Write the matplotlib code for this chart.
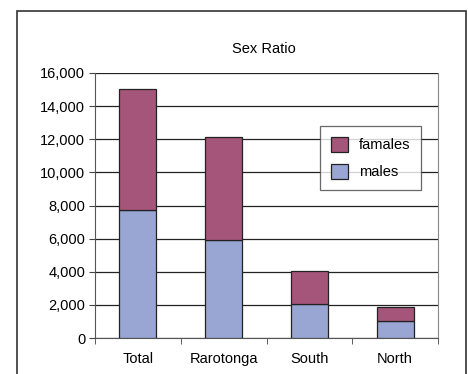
import matplotlib.pyplot as plt
import matplotlib.patches as mpatches
import numpy as np

plt.rcParams['font.family'] = ['Liberation Sans', 'DejaVu Sans']

# Data
regions = ['Total', 'Rarotonga', 'South', 'North']
males = [7750, 5900, 2070, 1020]
females = [7280, 6250, 1960, 830]
y_ticks = [0, 2000, 4000, 6000, 8000, 10000, 12000, 14000, 16000]

male_color = '#99a6d4'
female_color = '#a5557a'
fs = 10.5

fig = plt.figure(figsize=(4.68, 3.74), dpi=100)

# outer chart frame
frame = mpatches.Rectangle((17 / 468, -0.05), (466 - 17) / 468, 1.05 - 11 / 374,
                           transform=fig.transFigure, fill=False,
                           edgecolor='#333333', linewidth=1.2)
fig.patches.append(frame)

ax = fig.add_axes([95 / 468, 1 - 338 / 374, (438 - 95) / 468, (338 - 73) / 374])

x = np.arange(len(regions)) + 0.5
w = 0.43
ax.bar(x, males, width=w, color=male_color, edgecolor='#222222', linewidth=0.9,
       label='males', zorder=3)
ax.bar(x, females, width=w, bottom=males, color=female_color, edgecolor='#222222',
       linewidth=0.9, label='famales', zorder=3)

ax.set_xlim(0, len(regions))
ax.set_ylim(0, 16000)
ax.set_yticks(y_ticks)
ax.set_yticklabels([f'{v:,}' for v in y_ticks], fontsize=fs)
ax.set_xticks(x)
ax.set_xticklabels(regions, fontsize=fs)
ax.tick_params(axis='x', length=0, pad=10)
ax.set_xticks(np.arange(len(regions) + 1), minor=True)
ax.tick_params(axis='x', which='minor', length=4, direction='out', color='#444444')
ax.tick_params(axis='y', length=4, direction='out', color='#444444', pad=3)

ax.yaxis.grid(True, color='#222222', linewidth=0.9, zorder=0)
ax.spines['top'].set_visible(False)
ax.spines['left'].set_color('#555555')
ax.spines['bottom'].set_color('#555555')
ax.spines['right'].set_color('#888888')

fig.text(264 / 468, 1 - 49 / 374, 'Sex Ratio', ha='center', va='center', fontsize=fs)

handles, labels = ax.get_legend_handles_labels()
leg = ax.legend(handles[::-1], labels[::-1], loc='upper left',
                bbox_to_anchor=((320 - 95) / 343, (338 - 126) / 265),
                borderaxespad=0, fontsize=fs, frameon=True, fancybox=False,
                edgecolor='#444444', handlelength=1.2, handleheight=1.2,
                labelspacing=0.8, borderpad=0.75, handletextpad=0.7)
leg.get_frame().set_linewidth(0.9)

fig.savefig('out.png', dpi=100)
